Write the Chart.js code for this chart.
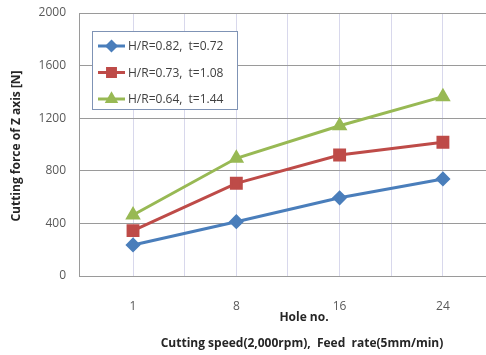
<!DOCTYPE html>
<html>
<head>
<meta charset="utf-8">
<script src="https://cdn.jsdelivr.net/npm/chart.js@4.4.1/dist/chart.umd.min.js"></script>
<style>
  html, body { margin: 0; padding: 0; background: #ffffff; }
  #wrap { width: 486px; height: 355px; }
</style>
</head>
<body>
<div id="wrap"><canvas id="c" width="486" height="355"></canvas></div>
<script>
// Hole numbers along the x axis
const holes = ['1', '8', '16', '24'];

// Cutting force of Z axis [N] for each tool geometry
const forceHR082 = [236, 413, 595, 738];
const forceHR073 = [345, 705, 920, 1017];
const forceHR064 = [464, 895, 1143, 1364];

const seriesLabels = ['H/R=0.82,  t=0.72', 'H/R=0.73,  t=1.08', 'H/R=0.64,  t=1.44'];
const yTicks = [0, 400, 800, 1200, 1600, 2000];

const FONT = "'Open Sans', 'Noto Sans', sans-serif";

function toPoints(values) {
  return values.map((v, i) => ({ x: i + 1, y: v }));
}

// Boxed legend inside the plot, plus the axis titles
const decorations = {
  id: 'decorations',
  afterDraw(chart) {
    const ctx = chart.ctx;
    const ca = chart.chartArea;
    ctx.save();

    // Legend box
    const bx = ca.left + 13, by = ca.top + 18, bw = 145, bh = 78;
    ctx.fillStyle = '#ffffff';
    ctx.fillRect(bx, by, bw, bh);
    ctx.strokeStyle = '#7f93b5';
    ctx.lineWidth = 1;
    ctx.strokeRect(bx + 0.5, by + 0.5, bw, bh);

    chart.data.datasets.forEach((ds, i) => {
      const cy = by + 15 + i * 26.5;
      const x0 = bx + 6, x1 = bx + 33;
      ctx.strokeStyle = ds.borderColor;
      ctx.lineWidth = 3;
      ctx.beginPath();
      ctx.moveTo(x0, cy);
      ctx.lineTo(x1, cy);
      ctx.stroke();
      Chart.helpers.drawPoint(ctx, {
        pointStyle: ds.pointStyle,
        radius: ds.pointRadius * 0.8,
        borderWidth: 1
      }, (x0 + x1) / 2, cy);
      ctx.fillStyle = ds.pointBackgroundColor;
      ctx.fill();
      ctx.fillStyle = '#404040';
      ctx.font = '12px ' + FONT;
      ctx.textAlign = 'left';
      ctx.textBaseline = 'middle';
      ctx.fillText(ds.label, x1 + 3, cy + 1);
    });

    // Y axis title
    ctx.fillStyle = '#262626';
    ctx.font = 'bold 12px ' + FONT;
    ctx.textAlign = 'center';
    ctx.textBaseline = 'middle';
    ctx.save();
    ctx.translate(17, 146);
    ctx.rotate(-Math.PI / 2);
    ctx.fillText('Cutting force of Z axis [N]', 0, 0);
    ctx.restore();

    // X axis titles
    ctx.fillText('Hole no.', 304, 318);
    ctx.fillText('Cutting speed(2,000rpm),  Feed  rate(5mm/min)', 302, 344);

    ctx.restore();
  }
};

new Chart(document.getElementById('c'), {
  type: 'line',
  data: {
    datasets: [
      {
        label: seriesLabels[0],
        data: toPoints(forceHR082),
        borderColor: '#4a7ebb',
        backgroundColor: '#4a7ebb',
        pointBackgroundColor: '#4a7ebb',
        pointBorderColor: '#4a7ebb',
        pointStyle: 'rectRot',
        pointRadius: 5.5,
        borderWidth: 3,
        tension: 0
      },
      {
        label: seriesLabels[1],
        data: toPoints(forceHR073),
        borderColor: '#be4b48',
        backgroundColor: '#be4b48',
        pointBackgroundColor: '#be4b48',
        pointBorderColor: '#be4b48',
        pointStyle: 'rect',
        pointRadius: 7,
        borderWidth: 3,
        tension: 0
      },
      {
        label: seriesLabels[2],
        data: toPoints(forceHR064),
        borderColor: '#98b954',
        backgroundColor: '#98b954',
        pointBackgroundColor: '#98b954',
        pointBorderColor: '#98b954',
        pointStyle: 'triangle',
        pointRadius: 6,
        borderWidth: 3,
        tension: 0
      }
    ]
  },
  options: {
    responsive: false,
    devicePixelRatio: 1,
    animation: false,
    layout: { autoPadding: false, padding: { top: 13, left: 0, right: 0, bottom: 0 } },
    plugins: {
      legend: { display: false },
      tooltip: { enabled: false }
    },
    scales: {
      x: {
        type: 'linear',
        min: 0.477,
        max: 4.417,
        afterBuildTicks(scale) {
          const t = [];
          for (let v = 1; v <= holes.length; v += 0.5) t.push({ value: v });
          scale.ticks = t;
        },
        afterFit(scale) {
          scale.height = 79;
          scale.paddingLeft = 0;
          scale.paddingRight = 0;
        },
        grid: { color: '#d8d8ec', lineWidth: 1, drawTicks: false },
        border: { color: '#9a9a9a', width: 1 },
        ticks: {
          autoSkip: false,
          maxRotation: 0,
          padding: 23,
          color: '#595959',
          font: { family: FONT, size: 12 },
          callback(value) {
            return Number.isInteger(value) ? holes[value - 1] : '';
          }
        }
      },
      y: {
        min: 0,
        max: 2000,
        afterBuildTicks(scale) {
          scale.ticks = yTicks.map(v => ({ value: v }));
        },
        afterFit(scale) {
          scale.width = 79;
          scale.paddingTop = 0;
          scale.paddingBottom = 0;
        },
        grid: { color: '#9a9a9a', lineWidth: 1, drawTicks: false },
        border: { color: '#9a9a9a', width: 1 },
        ticks: {
          padding: 13,
          color: '#595959',
          font: { family: FONT, size: 12 },
          callback(value) { return String(value); }
        }
      }
    }
  },
  plugins: [decorations]
});
</script>
</body>
</html>
